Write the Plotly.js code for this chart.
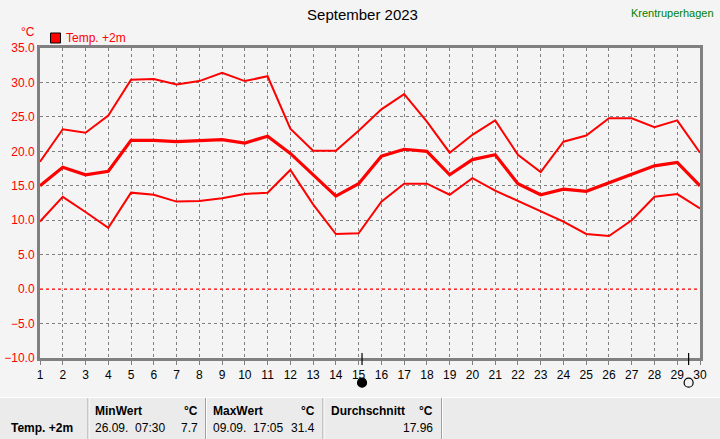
<!DOCTYPE html>
<html>
<head>
<meta charset="utf-8">
<script src="https://cdn.plot.ly/plotly-3.0.1.min.js"></script>
<style>
html,body{margin:0;padding:0;background:#f4f4f4;}
#chart{width:720px;height:439px;}
</style>
</head>
<body>
<div id="chart"></div>
<script>
// ---- data ----
const days = [1,2,3,4,5,6,7,8,9,10,11,12,13,14,15,16,17,18,19,20,21,22,23,24,25,26,27,28,29,30];
const tMax  = [18.5,23.2,22.7,25.2,30.4,30.5,29.7,30.2,31.4,30.2,30.9,23.3,20.1,20.1,23.0,26.1,28.3,24.3,19.8,22.4,24.5,19.5,17.0,21.4,22.3,24.8,24.8,23.5,24.5,19.8];
const tMean = [15.0,17.7,16.6,17.1,21.6,21.6,21.4,21.5,21.7,21.2,22.2,19.7,16.6,13.5,15.3,19.3,20.3,20.0,16.6,18.8,19.5,15.3,13.7,14.5,14.2,15.4,16.6,17.9,18.4,15.0];
const tMin  = [9.8,13.4,11.2,8.9,14.0,13.7,12.7,12.8,13.2,13.8,14.0,17.3,12.3,8.0,8.1,12.7,15.3,15.3,13.7,16.1,14.3,12.8,11.4,9.8,8.0,7.7,10.0,13.4,13.8,11.7];
const yTicks = [-10,-5,0,5,10,15,20,25,30,35];
const moonDays = [15.15, 29.5];          // new moon, full moon
const moonFill = ['#000000', '#f4f4f4'];
const statHeaders = ['MinWert', 'MaxWert', 'Durchschnitt'];
const statTimes = ['26.09.  07:30', '09.09.  17:05', ''];
const statValues = ['7.7', '31.4', '17.96'];
const seriesName = 'Temp. +2m';

// ---- geometry helpers (plot area: x 40..700, y 48..358 px) ----
const L = 40, T = 48, W = 660, H = 310;
const px = v => (v - L) / W;
const py = v => (T + H - v) / H;
const FONT = 'Liberation Sans, Arial, sans-serif';

const traces = [
  {x: days, y: tMax, mode: 'lines', line: {color: '#ff0000', width: 2}},
  {x: days, y: tMin, mode: 'lines', line: {color: '#ff0000', width: 2}},
  {x: days, y: tMean, mode: 'lines', line: {color: '#ff0000', width: 3.2}}
];

const shapes = [
  // zero line
  {type: 'line', xref: 'paper', yref: 'y', x0: 0, x1: 1, y0: 0, y1: 0,
   line: {color: '#f4f4f4', width: 1.2}},
  {type: 'line', xref: 'paper', yref: 'y', x0: 0, x1: 1, y0: 0, y1: 0,
   line: {color: '#ff0000', width: 1.2, dash: '3px,3px'}},
  // legend square
  {type: 'rect', xref: 'paper', yref: 'paper', x0: px(50.5), x1: px(60.5), y0: py(33), y1: py(43),
   fillcolor: '#ff0000', line: {color: '#000', width: 1}},
  // table background
  {type: 'rect', xref: 'paper', yref: 'paper', x0: px(0), x1: px(720), y0: py(398), y1: py(440),
   fillcolor: '#ebebeb', line: {width: 0}, layer: 'below'},
  {type: 'line', xref: 'paper', yref: 'paper', x0: px(0), x1: px(720), y0: py(397.5), y1: py(397.5),
   line: {color: '#ffffff', width: 1}}
];
// moon phase markers (tick through axis + circle below labels)
moonDays.forEach((d, i) => {
  shapes.push({type: 'line', xref: 'x', yref: 'paper', xsizemode: 'pixel', ysizemode: 'pixel',
    xanchor: d, yanchor: py(359), x0: 0, x1: 0, y0: 6, y1: -6, line: {color: '#000', width: 1.2}});
  shapes.push({type: 'circle', xref: 'x', yref: 'paper', xsizemode: 'pixel', ysizemode: 'pixel',
    xanchor: d, yanchor: py(382.7), x0: -4.5, x1: 4.5, y0: -4.5, y1: 4.5,
    fillcolor: moonFill[i], line: {color: '#000', width: 1.2}});
});
[88, 205.5, 323, 441.5].forEach(x => {
  shapes.push({type: 'line', xref: 'paper', yref: 'paper', x0: px(x), x1: px(x), y0: py(398), y1: py(440),
    line: {color: '#a0a0a0', width: 1}});
  shapes.push({type: 'line', xref: 'paper', yref: 'paper', x0: px(x + 1), x1: px(x + 1), y0: py(398), y1: py(440),
    line: {color: '#ffffff', width: 1}});
});

const ann = (text, x, y, anchor, opts) => Object.assign({
  text: text, xref: 'paper', yref: 'paper', x: px(x), y: py(y), xanchor: anchor, yanchor: 'middle',
  showarrow: false, font: {family: FONT, size: 12, color: '#000'}
}, opts || {});

const boldF = {family: FONT, size: 12, color: '#000', weight: 'bold'};
const annotations = [
  ann('Krentruperhagen', 716, 13, 'right', {font: {family: FONT, size: 11, color: '#008000'}}),
  ann('°C', 19, 32, 'left', {font: {family: FONT, size: 12, color: '#ff0000'}}),
  ann(seriesName, 64, 38, 'left', {font: {family: FONT, size: 12, color: '#ff0000'}}),
  ann('<b>' + seriesName + '</b>', 9, 427.5, 'left', {font: boldF})
];
const colLeft = [93, 211, 329];
const colRight = [200, 317, 435];
statHeaders.forEach((h, i) => {
  annotations.push(ann('<b>' + h + '</b>', colLeft[i], 411, 'left', {font: boldF}));
  annotations.push(ann('<b>°C</b>', colRight[i], 411, 'right', {font: boldF}));
  if (statTimes[i]) annotations.push(ann(statTimes[i], colLeft[i], 427.5, 'left'));
  annotations.push(ann(statValues[i], colRight[i], 427.5, 'right'));
});

const layout = {
  width: 720, height: 439,
  margin: {l: L, r: 720 - L - W, t: T, b: 439 - T - H, pad: 0},
  paper_bgcolor: '#f4f4f4', plot_bgcolor: '#f4f4f4',
  showlegend: false, hovermode: false,
  font: {family: FONT, size: 12, color: '#000'},
  title: {text: 'September 2023', font: {family: FONT, size: 15, color: '#000'},
          xref: 'container', x: 362.5 / 720, xanchor: 'center', yref: 'container', y: 1 - 15 / 439, yanchor: 'middle'},
  xaxis: {
    range: [1, 30], tickmode: 'array', tickvals: days, ticktext: days.map(String),
    showgrid: true, gridcolor: '#808080', gridwidth: 1, griddash: '3px,3px',
    showline: true, linecolor: '#808080', linewidth: 3, mirror: true,
    ticks: 'outside', ticklen: 4, tickcolor: '#808080', tickwidth: 1,
    tickfont: {family: FONT, size: 12, color: '#000'}, zeroline: false, fixedrange: true
  },
  yaxis: {
    range: [-10, 35], tickmode: 'array', tickvals: yTicks, tickformat: '.1f',
    showgrid: true, gridcolor: '#808080', gridwidth: 1, griddash: '3px,3px',
    showline: true, linecolor: '#808080', linewidth: 3, mirror: true,
    ticks: '', tickfont: {family: FONT, size: 12, color: '#ff0000'}, zeroline: false, fixedrange: true
  },
  shapes: shapes,
  annotations: annotations
};

Plotly.newPlot('chart', traces, layout, {displayModeBar: false, staticPlot: true});
</script>
</body>
</html>
